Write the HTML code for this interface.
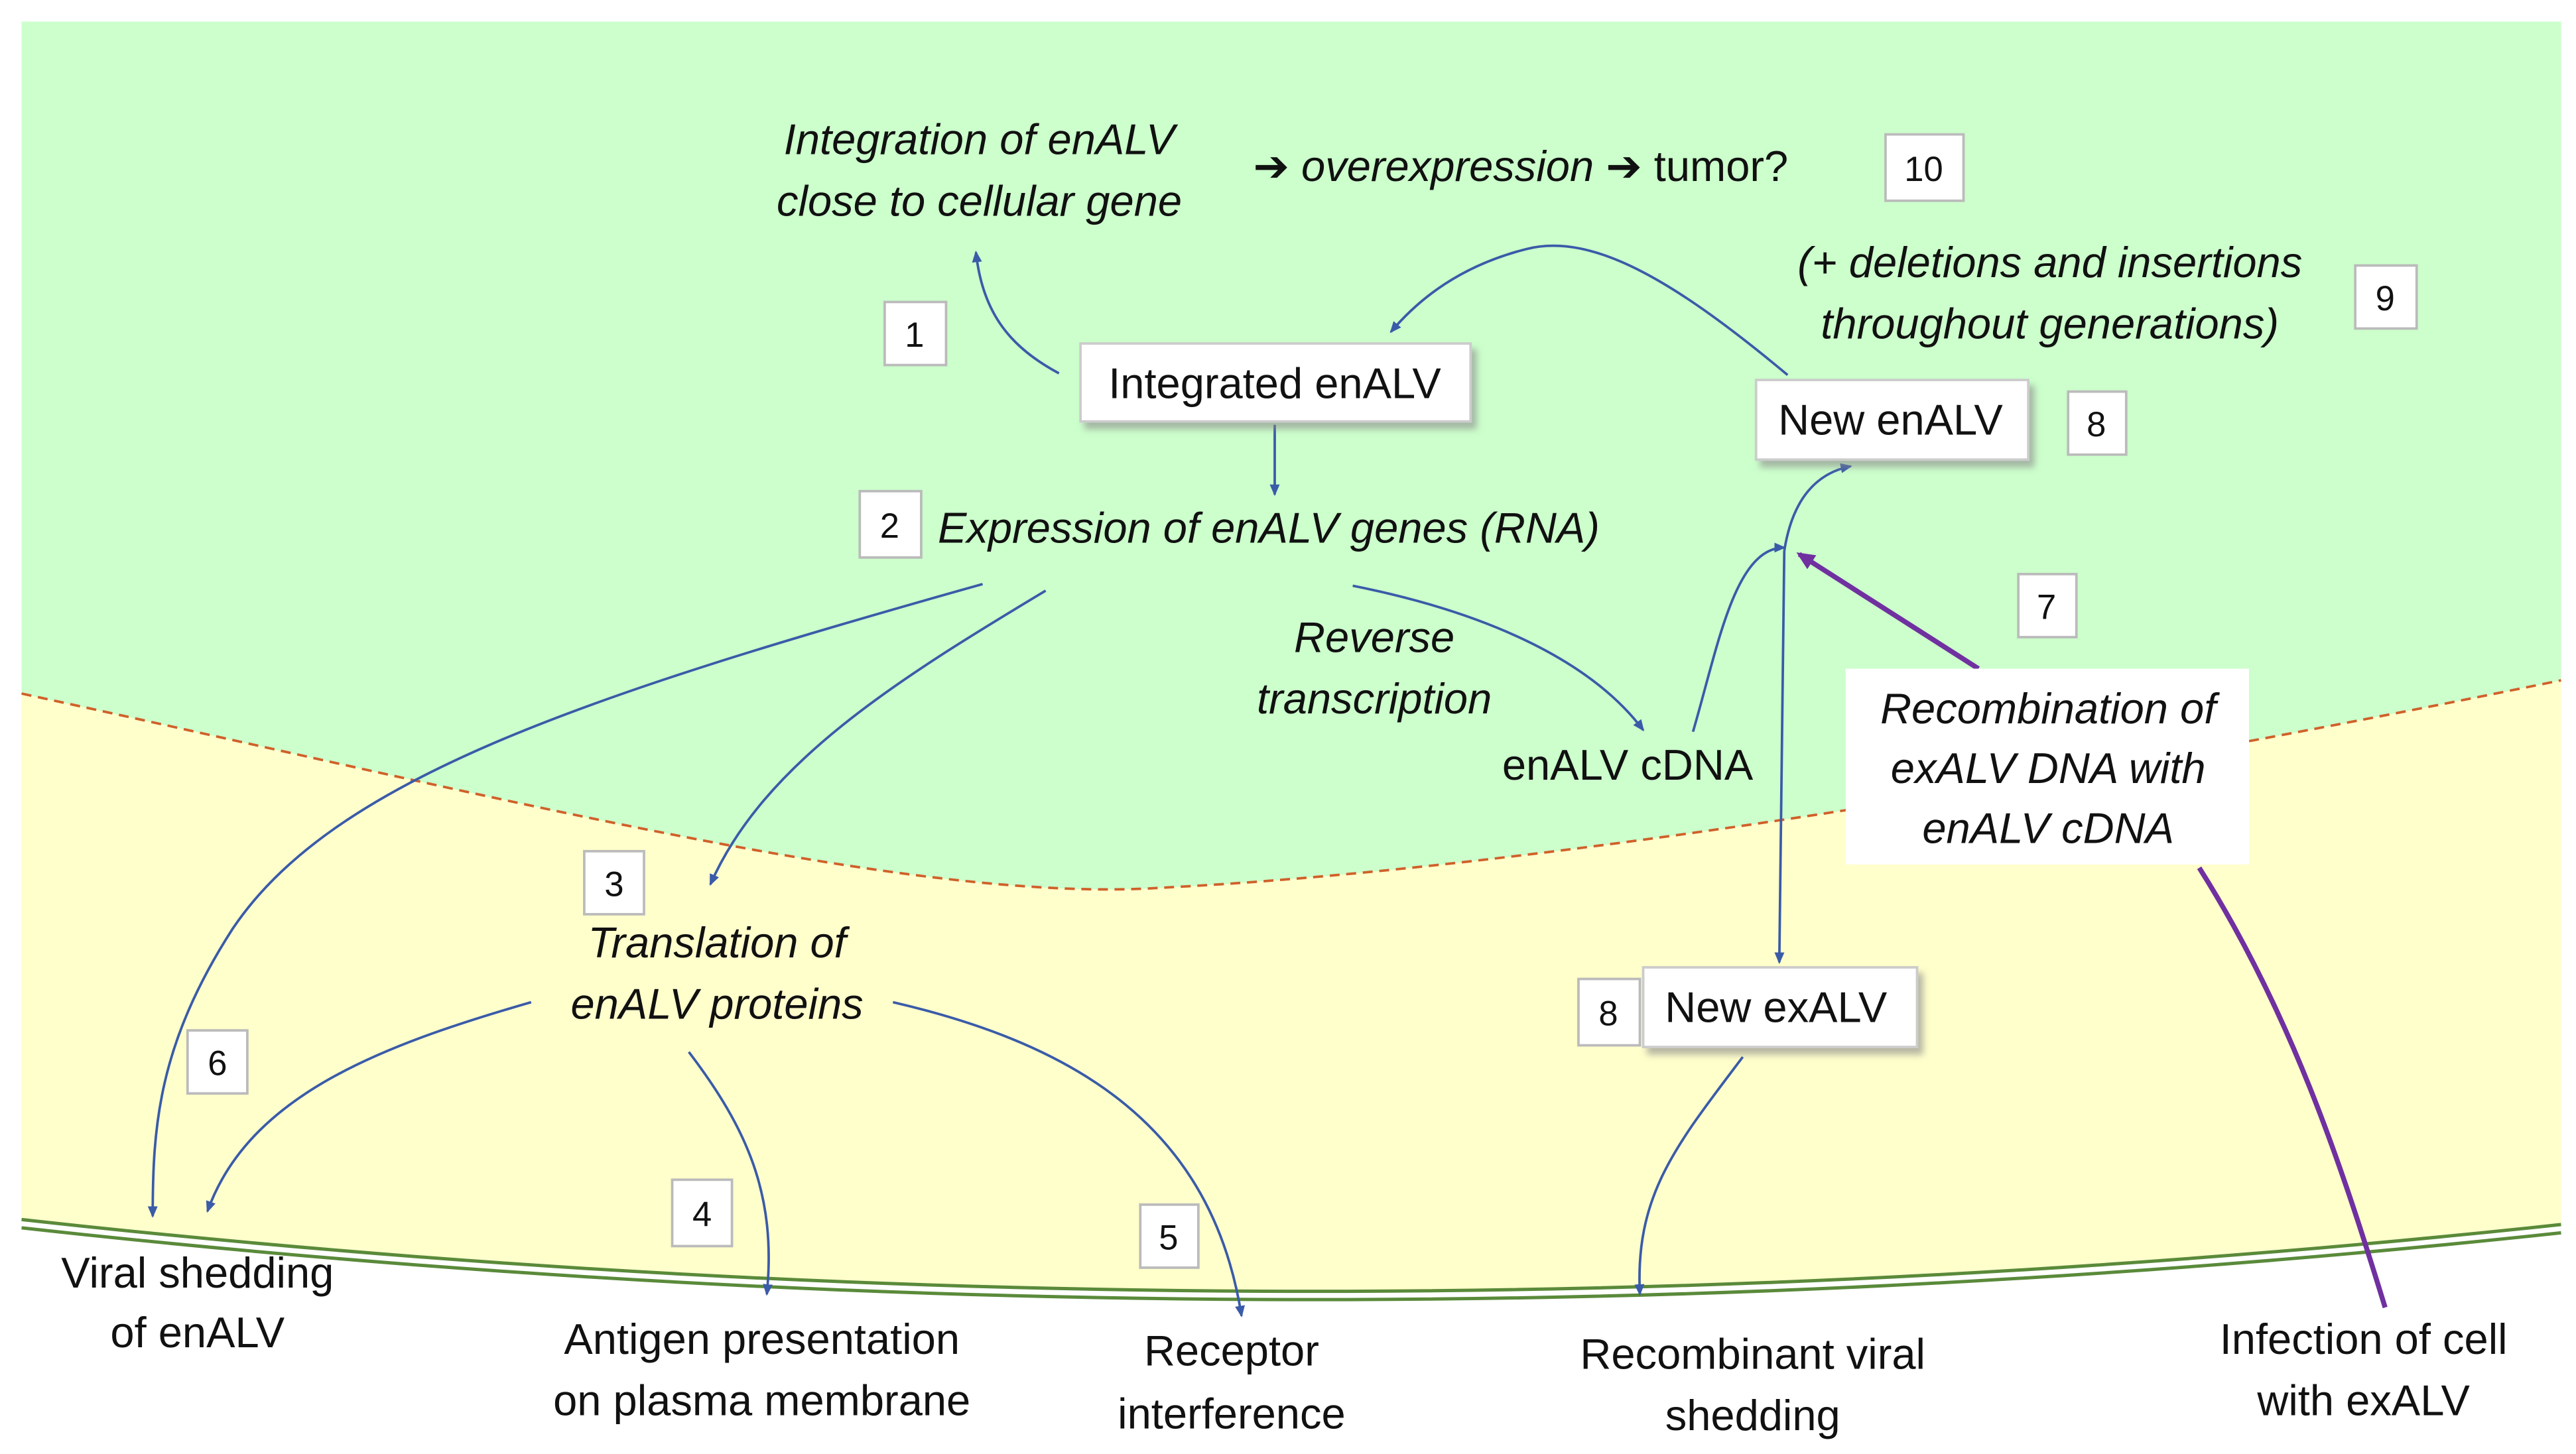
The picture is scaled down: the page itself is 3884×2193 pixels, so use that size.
<!DOCTYPE html>
<html><head><meta charset="utf-8"><style>
html,body{margin:0;padding:0;background:#fff;}
svg{display:block;}
text{font-family:"Liberation Sans",sans-serif;fill:#111;}
.it{font-style:italic;}
</style></head><body>
<svg width="3884" height="2193" viewBox="0 0 1552 876.3" preserveAspectRatio="none" xmlns="http://www.w3.org/2000/svg">
<defs>
<marker id="a" markerWidth="8" markerHeight="8" refX="6" refY="4" orient="auto" markerUnits="userSpaceOnUse"><path d="M0,1 L7,4 L0,7 Z" fill="#3a5ba8"/></marker>
<marker id="p" markerWidth="12" markerHeight="12" refX="9" refY="6" orient="auto" markerUnits="userSpaceOnUse"><path d="M0,1 L11,6 L0,11 Z" fill="#7030a0"/></marker>
<filter id="sh" x="-10%" y="-10%" width="130%" height="140%"><feDropShadow dx="3" dy="4" stdDeviation="2" flood-color="#888" flood-opacity="0.6"/></filter>
</defs>
<rect x="0" y="0" width="1552" height="877" fill="#fff"/>
<rect x="13" y="13" width="1530" height="780" fill="#ccffcc"/>
<path d="M13,418 C300,480 550,545 700,535 C900,525 1200,480 1543,410 L1543,738 Q780,820 13,735 Z" fill="#ffffcc"/>
<path d="M13,735 Q780,820 1543,738 L1543,876 L13,876 Z" fill="#fff"/>
<path d="M13,418 C300,480 550,545 700,535 C900,525 1200,480 1543,410" fill="none" stroke="#d0602a" stroke-width="1.5" stroke-dasharray="6,4"/>
<path d="M13,735 Q780,820 1543,738" fill="none" stroke="#5a8a3a" stroke-width="2"/>
<path d="M13,740 Q780,825 1543,743" fill="none" stroke="#5a8a3a" stroke-width="2"/>

<g fill="none" stroke="#3a5ba8" stroke-width="1.5">
<path d="M638,225 C610,210 592,190 588,152" marker-end="url(#a)"/>
<path d="M768,256 L768,298" marker-end="url(#a)"/>
<path d="M1077,226 C1010,170 960,140 920,150 C880,160 855,180 838,200" marker-end="url(#a)"/>
<path d="M592,352 C350,420 200,470 140,560 C95,630 92,680 92,733" marker-end="url(#a)"/>
<path d="M630,356 C540,410 460,460 428,533" marker-end="url(#a)"/>
<path d="M815,353 C900,370 960,400 990,440" marker-end="url(#a)"/>
<path d="M1020,441 C1035,390 1045,330 1075,330" marker-end="url(#a)"/>
<path d="M1075,332 C1080,300 1095,285 1115,281" marker-end="url(#a)"/>
<path d="M1075,332 L1072,580" marker-end="url(#a)"/>
<path d="M320,604 C230,630 150,660 125,730" marker-end="url(#a)"/>
<path d="M415,634 C450,680 468,720 462,780" marker-end="url(#a)"/>
<path d="M538,604 C650,630 730,680 748,793" marker-end="url(#a)"/>
<path d="M1050,637 C1010,690 985,720 988,780" marker-end="url(#a)"/>
</g>
<g fill="none" stroke="#7030a0" stroke-width="3">
<path d="M1192,403 L1084,334" marker-end="url(#p)"/>
<path d="M1325,523 C1380,610 1410,700 1437,788"/>
</g>

<g fill="#fff" stroke="#bbb" stroke-width="1.5">
<rect x="533" y="182" width="37" height="38"/>
<rect x="518" y="296" width="37" height="40"/>
<rect x="1136" y="81" width="47" height="40"/>
<rect x="1419" y="160" width="37" height="38"/>
<rect x="1246" y="236" width="35" height="38"/>
<rect x="1216" y="346" width="35" height="38"/>
<rect x="352" y="513" width="36" height="38"/>
<rect x="113" y="621" width="36" height="38"/>
<rect x="405" y="711" width="36" height="40"/>
<rect x="687" y="726" width="35" height="38"/>
<rect x="951" y="590" width="37" height="40"/>
</g>
<g fill="#fff" stroke="#ccc" stroke-width="1.5" filter="url(#sh)">
<rect x="651" y="207" width="235" height="47"/>
<rect x="1058" y="229" width="164" height="48"/>
<rect x="990" y="583" width="165" height="48"/>
</g>
<rect x="1112" y="403" width="243" height="118" fill="#fff"/>

<g font-size="21" text-anchor="middle">
<text x="551" y="209">1</text>
<text x="536" y="324">2</text>
<text x="1159" y="109">10</text>
<text x="1437" y="187">9</text>
<text x="1263" y="263">8</text>
<text x="1233" y="373">7</text>
<text x="370" y="540">3</text>
<text x="131" y="648">6</text>
<text x="423" y="739">4</text>
<text x="704" y="753">5</text>
<text x="969" y="618">8</text>
</g>
<g font-size="26">
<text x="768" y="240" text-anchor="middle">Integrated enALV</text>
<text x="1139" y="262" text-anchor="middle">New enALV</text>
<text x="1070" y="616" text-anchor="middle">New exALV</text>
<text x="905" y="470">enALV cDNA</text>
<g class="it" text-anchor="middle">
<text x="590" y="93">Integration of enALV</text>
<text x="590" y="130">close to cellular gene</text>
<text x="1235" y="167">(+ deletions and insertions</text>
<text x="1235" y="204">throughout generations)</text>
<text x="828" y="393">Reverse</text>
<text x="828" y="430">transcription</text>
<text x="1234" y="436">Recombination of</text>
<text x="1234" y="472">exALV DNA with</text>
<text x="1234" y="508">enALV cDNA</text>
<text x="432" y="577">Translation of</text>
<text x="432" y="614">enALV proteins</text>
</g>
<text x="565" y="327" class="it">Expression of enALV genes (RNA)</text>
<text x="755" y="109">➔ <tspan class="it">overexpression</tspan> ➔ tumor?</text>
<g text-anchor="middle">
<text x="119" y="776">Viral shedding</text>
<text x="119" y="812">of enALV</text>
<text x="459" y="816">Antigen presentation</text>
<text x="459" y="853">on plasma membrane</text>
<text x="742" y="823">Receptor</text>
<text x="742" y="861">interference</text>
<text x="1056" y="825">Recombinant viral</text>
<text x="1056" y="862">shedding</text>
<text x="1424" y="816">Infection of cell</text>
<text x="1424" y="853">with exALV</text>
</g>
</g>
</svg>
</body></html>
